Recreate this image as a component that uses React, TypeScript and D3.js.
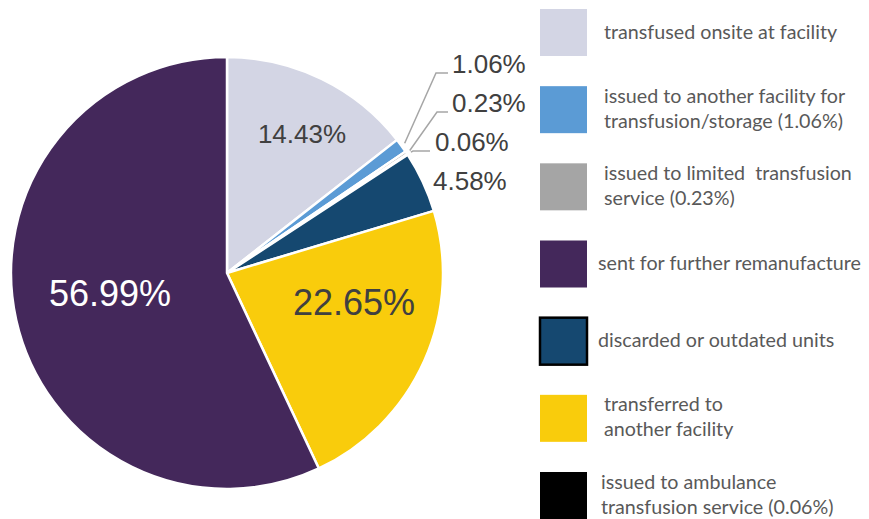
import React, { useEffect, useRef } from "react";
import * as d3 from "d3";

// pie slices, clockwise from 12 o'clock
const sliceNames = [
	"transfused onsite at facility",
	"issued to another facility for transfusion/storage",
	"issued to limited transfusion service",
	"issued to ambulance transfusion service",
	"discarded or outdated units",
	"transferred to another facility",
	"sent for further remanufacture",
];
const sliceValues = [14.43, 1.06, 0.23, 0.06, 4.58, 22.65, 56.99];
const sliceLabels = ["14.43%", "1.06%", "0.23%", "0.06%", "4.58%", "22.65%", "56.99%"];
const sliceColors = ["#d3d5e4", "#5b9bd5", "#a5a5a5", "#000000", "#154870", "#f9cc0c", "#44285b"];

// legend, top to bottom (index into slices)
const legendOrder = [0, 1, 2, 6, 4, 5, 3];
const legendLines = [
	["transfused onsite at facility"],
	["issued to another facility for", "transfusion/storage (1.06%)"],
	["issued to limited  transfusion", "service (0.23%)"],
	["sent for further remanufacture"],
	["discarded or outdated units"],
	["transferred to", "another facility"],
	["issued to ambulance", "transfusion service (0.06%)"],
];

// label placement relative to pie centre
const labelLayout = [
	{ x: 75, y: -139, inside: true, size: 26, color: "#404040" },
	{ x: 225, y: -200, inside: false, size: 26, color: "#404040", elbow: 209, end: 221 },
	{ x: 225, y: -161, inside: false, size: 26, color: "#404040", elbow: 210, end: 221 },
	{ x: 208, y: -122, inside: false, size: 26, color: "#404040", elbow: 186, end: 203 },
	{ x: 206, y: -83, inside: false, size: 26, color: "#404040" },
	{ x: 127, y: 29, inside: true, size: 36, color: "#404040" },
	{ x: -117, y: 20, inside: true, size: 36, color: "#ffffff" },
];
const legendTextX = [604, 604, 604, 598, 598, 604, 601];

export default function App() {
	const ref = useRef<SVGSVGElement>(null);

	useEffect(() => {
		const w = 869;
		const h = 519;
		const cx = 227;
		const cy = 273;
		const r = 216;

		const svg = d3.select(ref.current).attr("viewBox", `0 0 ${w} ${h}`);
		svg.selectAll("*").remove();

		const data = sliceValues.map((v, i) => ({ name: sliceNames[i], value: v, i }));
		const pie = d3
			.pie<any>()
			.sort(null)
			.value(d => d.value);
		const arcs = pie(data);
		const arc = d3.arc<any>().innerRadius(0).outerRadius(r);
		const edge = d3.arc<any>().innerRadius(r + 4).outerRadius(r + 4);

		const g = svg.append("g").attr("transform", `translate(${cx},${cy})`);

		// Slices
		g.selectAll("path.slice")
			.data(arcs)
			.enter()
			.append("path")
			.attr("class", "slice")
			.attr("d", arc)
			.attr("fill", d => sliceColors[d.data.i])
			.attr("stroke", "#ffffff")
			.attr("stroke-width", 2.5)
			.attr("stroke-linejoin", "round");

		// Leader lines
		arcs.forEach(d => {
			const L = labelLayout[d.data.i];
			if (L.inside || L.elbow === undefined) return;
			const [sx, sy] = edge.centroid(d);
			g.append("polyline")
				.attr("points", `${sx},${sy} ${L.elbow},${L.y} ${L.end},${L.y}`)
				.attr("fill", "none")
				.attr("stroke", "#a6a6a6")
				.attr("stroke-width", 1.5);
		});

		// Labels
		arcs.forEach(d => {
			const L = labelLayout[d.data.i];
			const t = g
				.append("text")
				.attr("x", L.x)
				.attr("y", L.y)
				.attr("font-family", "'Liberation Sans', Arial, sans-serif")
				.attr("font-size", L.size)
				.attr("fill", L.color)
				.text(sliceLabels[d.data.i]);
			if (L.inside) {
				t.attr("text-anchor", "middle").attr("dominant-baseline", "central");
			}
		});

		// Legend
		const legendY = d3
			.scaleLinear()
			.domain([0, legendOrder.length - 1])
			.range([9, 472]);
		const sq = 47;
		legendOrder.forEach((si, k) => {
			const y0 = legendY(k);
			svg.append("rect")
				.attr("x", 540)
				.attr("y", y0)
				.attr("width", sq)
				.attr("height", sq)
				.attr("fill", sliceColors[si])
				.attr("stroke", si === 4 ? "#000000" : "none")
				.attr("stroke-width", 2.5);
			const lines = legendLines[k];
			const mid = y0 + sq / 2;
			const text = svg
				.append("text")
				.attr("font-family", "Lato, 'Open Sans', sans-serif")
				.attr("font-size", 19.7)
				.attr("fill", "#595959")
				.style("white-space", "pre");
			lines.forEach((line, j) => {
				const by = lines.length === 1 ? mid + 6 : mid - 7 + j * 25;
				text.append("tspan").attr("x", legendTextX[k]).attr("y", by).text(line);
			});
		});
	}, []);

	return (
		<svg
			ref={ref}
			width={869}
			height={519}
			style={{ position: "absolute", left: 0, top: 0, background: "#ffffff" }}
		/>
	);
}
